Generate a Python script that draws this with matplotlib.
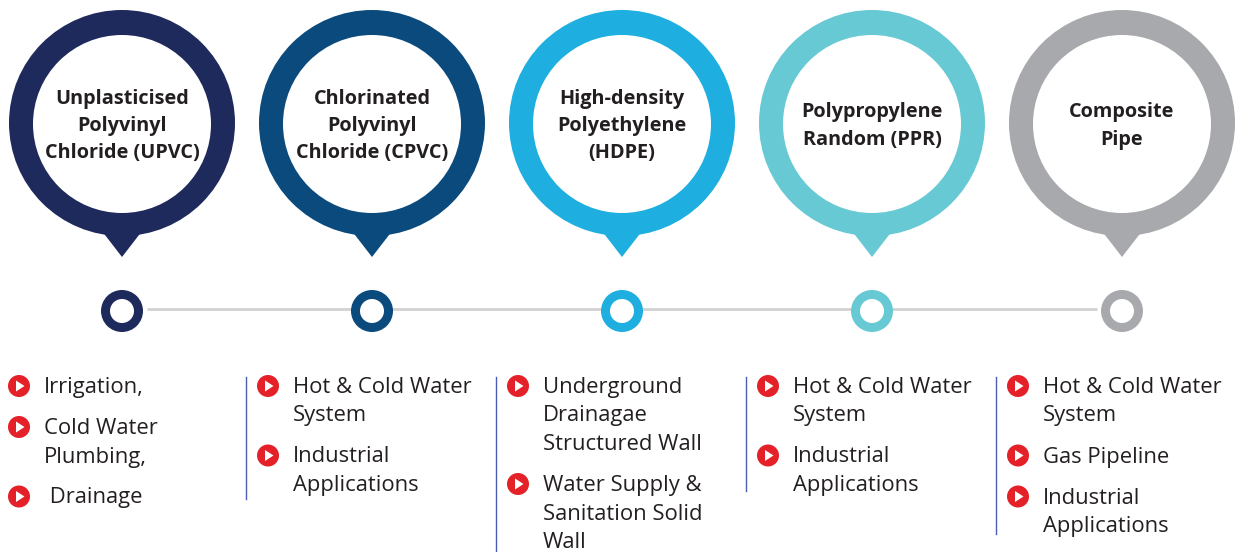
import matplotlib
matplotlib.use("Agg")
import matplotlib.pyplot as plt
from matplotlib.patches import Circle, Polygon

# ---- data ----
titles = [
    "Unplasticised\nPolyvinyl\nChloride (UPVC)",
    "Chlorinated\nPolyvinyl\nChloride (CPVC)",
    "High-density\nPolyethylene\n(HDPE)",
    "Polypropylene\nRandom (PPR)",
    "Composite\nPipe",
]
colors = ["#1f2a5c", "#0b4a7d", "#1eaee0", "#67c9d3", "#a7a9ac"]
applications = [
    ["Irrigation,", "Cold Water\nPlumbing,", " Drainage"],
    ["Hot & Cold Water\nSystem", "Industrial\nApplications"],
    ["Underground\nDrainagae\nStructured Wall", "Water Supply &\nSanitation Solid\nWall"],
    ["Hot & Cold Water\nSystem", "Industrial\nApplications"],
    ["Hot & Cold Water\nSystem", "Gas Pipeline", "Industrial\nApplications"],
]

# ---- layout ----
W, H = 1235, 552
fig = plt.figure(figsize=(W / 100, H / 100), dpi=100)
ax = fig.add_axes([0, 0, 1, 1])
ax.set_xlim(0, W)
ax.set_ylim(H, 0)
ax.axis("off")

x0, dx = 122, 250
pin_cy, R, r = 123, 113, 89
tip_y = 257
dot_y, dR, dr = 311, 21, 12
line_h = 28.5
item_gap = 12.5
title_lh = 27
text_col = "#231f20"
red = "#e42128"
divider_ends = [None, 499, 551, 491, 534]

n = len(titles)
# connector line
ax.plot([x0 + dR + 4, x0 + dx * (n - 1) - dR - 4], [dot_y - 2, dot_y - 2],
        color="#d2d2d2", lw=2, zorder=1, solid_capstyle="butt")

for i, (t, c, apps) in enumerate(zip(titles, colors, applications)):
    cx = x0 + dx * i
    # pin
    ax.add_patch(Polygon([(cx - 44, 200), (cx + 44, 200), (cx, tip_y)],
                         closed=True, facecolor=c, edgecolor="none", zorder=2))
    ax.add_patch(Circle((cx, pin_cy), R, facecolor=c, edgecolor="none", zorder=2))
    ax.add_patch(Circle((cx, pin_cy + 1), r, facecolor="white", edgecolor="none", zorder=3))
    tl = t.split("\n")
    for k, s in enumerate(tl):
        yy = 124 + (k - (len(tl) - 1) / 2) * title_lh
        ax.text(cx, yy + 7, s, ha="center", va="baseline", fontsize=14.3,
                fontweight="bold", family="Open Sans", color=text_col, zorder=4)
    # small ring
    ax.add_patch(Circle((cx, dot_y), dR, facecolor=c, edgecolor="none", zorder=2))
    ax.add_patch(Circle((cx, dot_y), dr, facecolor="white", edgecolor="none", zorder=3))

    # list
    bx = cx - 103 if i == 0 else cx - 104
    tx = bx + 25
    y = 385
    for a in apps:
        ax.add_patch(Circle((bx, y + 1), 11, facecolor=red, edgecolor="none", zorder=3))
        ax.add_patch(Polygon([(bx - 3, y - 4.5), (bx - 3, y + 6.5), (bx + 5.5, y + 1)],
                             closed=True, facecolor="white", edgecolor="none", zorder=4))
        lines = a.split("\n")
        for k, s in enumerate(lines):
            ax.text(tx, y + k * line_h + 8, s, ha="left", va="baseline", fontsize=15.8,
                    family="Open Sans", color=text_col)
        y += len(lines) * line_h + item_gap
    if divider_ends[i] is not None:
        lx = cx - 126
        ax.plot([lx, lx], [377, divider_ends[i]], color="#4a5db0", lw=1)

fig.savefig("out.png", dpi=100, facecolor="white")
